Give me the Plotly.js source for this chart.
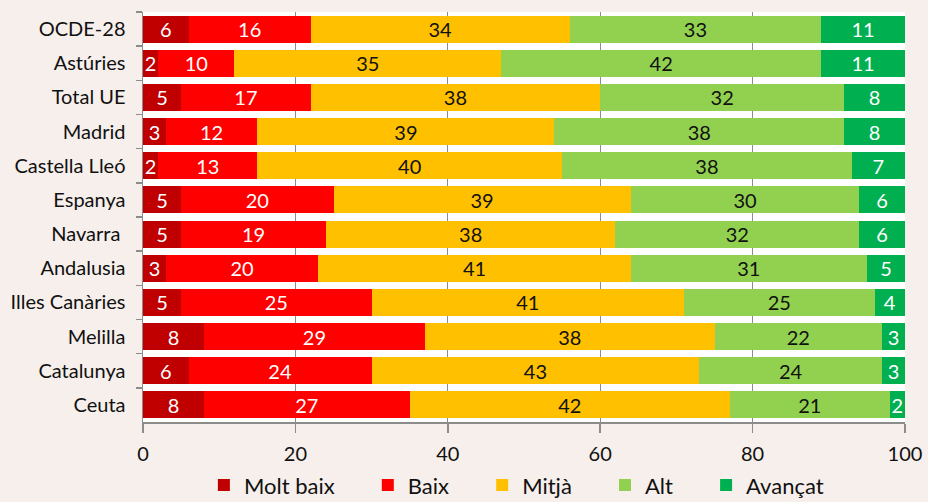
<!DOCTYPE html>
<html>
<head>
<meta charset="utf-8">
<script src="https://cdn.plot.ly/plotly-3.0.1.min.js"></script>
<style>
  html, body { margin: 0; padding: 0; background: #f7efeb; }
  #chart { width: 928px; height: 502px; }
</style>
</head>
<body>
<div id="chart"></div>
<script>
const categories = ["OCDE-28", "Astúries", "Total UE", "Madrid", "Castella Lleó", "Espanya", "Navarra ", "Andalusia", "Illes Canàries", "Melilla", "Catalunya", "Ceuta"];
const moltBaix = [6, 2, 5, 3, 2, 5, 5, 3, 5, 8, 6, 8];
const baix     = [16, 10, 17, 12, 13, 20, 19, 20, 25, 29, 24, 27];
const mitja    = [34, 35, 38, 39, 40, 39, 38, 41, 41, 38, 43, 42];
const alt      = [33, 42, 32, 38, 38, 30, 32, 31, 25, 22, 24, 21];
const avancat  = [11, 11, 8, 8, 7, 6, 6, 5, 4, 3, 3, 2];
const seriesNames = ["Molt baix", "Baix", "Mitjà", "Alt", "Avançat"];
const xTicks = [0, 20, 40, 60, 80, 100];

const seriesValues = [moltBaix, baix, mitja, alt, avancat];
const colors = ["#C00000", "#FF0000", "#FFC000", "#92D050", "#00B050"];
const textColors = ["#ffffff", "#ffffff", "#111111", "#111111", "#ffffff"];
const FONT = "Lato, 'Open Sans', sans-serif";
const PAD = "\u00A0\u00A0\u00A0\u00A0\u00A0";

const traces = seriesValues.map((vals, i) => ({
  type: "bar",
  orientation: "h",
  name: i < seriesNames.length - 1 ? seriesNames[i] + PAD : seriesNames[i],
  y: categories,
  x: vals,
  text: vals.map(String),
  textposition: "inside",
  insidetextanchor: "middle",
  textangle: 0,
  textfont: { family: FONT, size: 20, color: textColors[i] },
  marker: { color: colors[i], line: { width: 0 } },
  hoverinfo: "x+name"
}));

const layout = {
  width: 928,
  height: 502,
  barmode: "stack",
  bargap: 0.21,
  paper_bgcolor: "#f7efeb",
  plot_bgcolor: "#ffffff",
  font: { family: FONT, color: "#111111" },
  margin: { l: 143, r: 23, t: 12, b: 80, autoexpand: false },
  uniformtext: { mode: "show", minsize: 20 },
  showlegend: true,
  legend: {
    orientation: "h",
    x: 0.49, xanchor: "center",
    y: -0.103, yanchor: "top",
    font: { family: FONT, size: 22, color: "#111111" },
    bgcolor: "rgba(0,0,0,0)",
    itemwidth: 30,
    traceorder: "normal"
  },
  xaxis: {
    range: [0, 100],
    tickvals: xTicks,
    ticktext: xTicks.map(String),
    showgrid: true,
    gridcolor: "#8c8c8c",
    gridwidth: 1,
    zeroline: false,
    showline: true,
    linecolor: "#8c8c8c",
    linewidth: 1.5,
    ticks: "outside",
    ticklen: 9,
    tickcolor: "#8c8c8c",
    tickwidth: 1.5,
    ticklabelstandoff: 4,
    tickfont: { family: FONT, size: 20, color: "#111111" }
  },
  yaxis: {
    categoryorder: "array",
    categoryarray: categories,
    autorange: "reversed",
    showline: true,
    linecolor: "#8c8c8c",
    linewidth: 1.5,
    ticks: "outside",
    tickson: "boundaries",
    ticklen: 6,
    tickcolor: "#8c8c8c",
    tickwidth: 1.5,
    showgrid: false,
    ticklabelstandoff: 12,
    tickfont: { family: FONT, size: 20, color: "#111111" }
  }
};

Plotly.newPlot("chart", traces, layout, { displayModeBar: false, staticPlot: true });
</script>
</body>
</html>
